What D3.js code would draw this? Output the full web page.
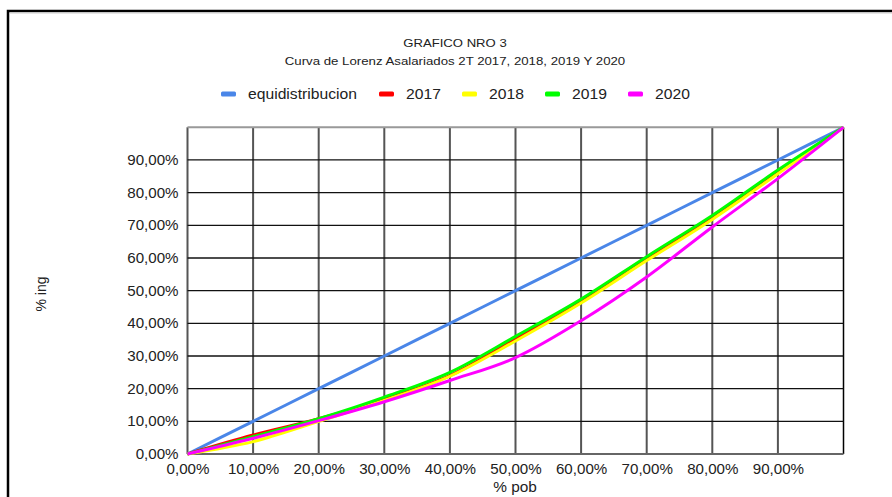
<!DOCTYPE html>
<html><head><meta charset="utf-8">
<script src="https://cdn.jsdelivr.net/npm/d3@7"></script>
<style>body{margin:0;background:#fff}svg{display:block;font-family:"Liberation Sans",Arial,sans-serif}</style>
</head><body>
<script>
const xs = [0, 10, 20, 30, 40, 50, 60, 70, 80, 90, 100];
const equi = [0, 10, 20, 30, 40, 50, 60, 70, 80, 90, 100];
const s2017 = [0, 5.8, 10.8, 16.8, 24.0, 35.2, 46.8, 59.6, 72.4, 86.3, 100];
const s2018 = [0, 3.8, 10.0, 16.4, 23.8, 34.6, 46.2, 59.2, 71.8, 85.8, 100];
const s2019 = [0, 5.3, 10.8, 17.4, 25.0, 36.0, 47.4, 60.4, 73.0, 86.9, 100];
const s2020 = [0, 4.8, 10.2, 16.0, 22.5, 29.5, 40.8, 54.2, 69.5, 84.3, 100];
const seriesNames = ["equidistribucion", "2017", "2018", "2019", "2020"];
const seriesColors = ["#4a86e8", "#ff0000", "#ffff00", "#00ff00", "#ff00ff"];
const seriesData = [equi, s2017, s2018, s2019, s2020];
const tickVals = [0, 10, 20, 30, 40, 50, 60, 70, 80, 90];
const fmt = v => v.toFixed(2).replace(".", ",") + "%";

function stretch(sel, f) {
  sel.each(function () {
    const L = this.getComputedTextLength();
    d3.select(this).attr("textLength", L * f).attr("lengthAdjust", "spacingAndGlyphs");
  });
}

const W = 892, H = 497;
const svg = d3.select("body").append("svg").attr("width", W).attr("height", H);
// frame
svg.append("rect").attr("x", 8).attr("y", 11).attr("width", W + 10).attr("height", H + 10)
  .attr("fill", "none").attr("stroke", "#000").attr("stroke-width", 2.5);
svg.append("line").attr("x1", 10).attr("x2", W).attr("y1", 13).attr("y2", 13).attr("stroke", "#ccc");

const x = d3.scaleLinear().domain([0, 100]).range([187.5, 843.5]);
const y = d3.scaleLinear().domain([0, 100]).range([454, 127.3]);

// grid
const g = svg.append("g");
g.selectAll(".vg").data(xs).join("line")
  .attr("x1", d => x(d)).attr("x2", d => x(d)).attr("y1", y(100)).attr("y2", y(0))
  .attr("stroke", d => d === 100 ? "#000" : "#555").attr("stroke-width", d => d === 100 ? 1.5 : 2);
g.selectAll(".hg").data(xs).join("line")
  .attr("x1", x(0)).attr("x2", x(100)).attr("y1", d => y(d)).attr("y2", d => y(d))
  .attr("stroke", d => d === 100 ? "#999" : (d === 0 ? "#666" : "#111")).attr("stroke-width", d => d === 0 || d === 100 ? 2 : 1.3);

// axes labels
const yAxis = d3.axisLeft(y).tickValues(tickVals).tickFormat(fmt).tickSize(0).tickPadding(9);
svg.append("g").attr("transform", `translate(${x(0)},0)`).call(yAxis)
  .call(a => a.select(".domain").remove())
  .selectAll("text").attr("font-size", 14).attr("fill", "#222").attr("font-family", "Liberation Sans, Arial, sans-serif")
  .call(stretch, 1.08);
const xAxis = d3.axisBottom(x).tickValues(tickVals).tickFormat(fmt).tickSize(0).tickPadding(10);
svg.append("g").attr("transform", `translate(0,${y(0)})`).call(xAxis)
  .call(a => a.select(".domain").remove())
  .selectAll("text").attr("font-size", 14).attr("fill", "#222").attr("font-family", "Liberation Sans, Arial, sans-serif")
  .call(stretch, 1.08);

svg.append("text").attr("x", 515).attr("y", 492).attr("text-anchor", "middle").attr("font-size", 14).attr("fill", "#222").text("% pob").call(stretch, 1.1);
svg.append("text").attr("transform", "translate(46,294) rotate(-90)").attr("text-anchor", "middle").attr("font-size", 14).attr("fill", "#222").text("% ing");

// lines
const line = d3.line().x((d, i) => x(xs[i])).y(d => y(d)).curve(d3.curveMonotoneX);
svg.append("g").selectAll("path").data(seriesData).join("path")
  .attr("d", d => line(d)).attr("fill", "none")
  .attr("stroke", (d, i) => seriesColors[i]).attr("stroke-width", 3).attr("stroke-linejoin", "round");

// titles
svg.append("text").attr("x", 455).attr("y", 47).attr("text-anchor", "middle").attr("font-size", 11.5).attr("fill", "#222").text("GRAFICO NRO 3").call(stretch, 1.14);
svg.append("text").attr("x", 455).attr("y", 65).attr("text-anchor", "middle").attr("font-size", 11.5).attr("fill", "#222").text("Curva de Lorenz Asalariados 2T 2017, 2018, 2019 Y 2020").call(stretch, 1.15);

// legend
const legX = [221, 379, 462, 545, 628];
const leg = svg.append("g").selectAll("g").data(seriesNames).join("g")
  .attr("transform", (d, i) => `translate(${legX[i]},94)`);
leg.append("rect").attr("x", 0).attr("y", -2.5).attr("width", 15).attr("height", 5).attr("rx", 1.5)
  .attr("fill", (d, i) => seriesColors[i]);
leg.append("text").attr("x", 27).attr("y", 5).attr("font-size", 14).attr("fill", "#222").text(d => d).call(stretch, 1.12);
</script>
</body></html>
